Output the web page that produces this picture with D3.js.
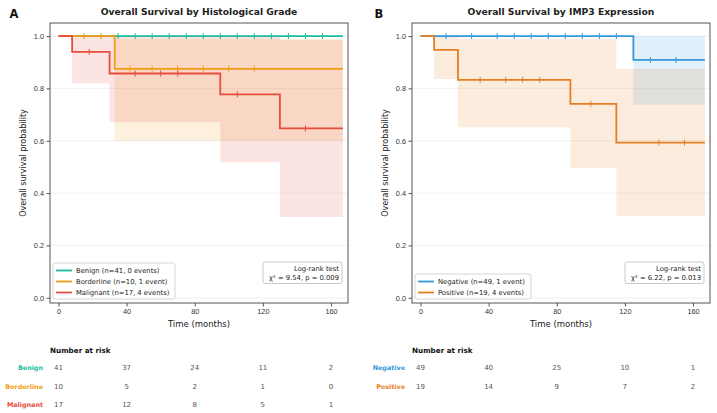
<!DOCTYPE html>
<html><head><meta charset="utf-8">
<script src="https://cdn.jsdelivr.net/npm/d3@7"></script>
<style>body{margin:0;background:#fff;} svg{font-family:"DejaVu Sans",sans-serif;}</style>
</head><body><svg id="c" width="717" height="413"></svg>
<script>
// ---- data ----
const endTime = 167;
const xTicks = [0, 40, 80, 120, 160];
const yTicks = [0.0, 0.2, 0.4, 0.6, 0.8, 1.0];

// Panel A
const benignTimes = [0];
const benignSurv = [1];
const benignLower = [1];
const benignUpper = [1];
const benignCensor = [35, 45, 55, 65, 75, 85, 95, 105, 115, 125, 135, 145, 155];

const borderTimes = [0, 33];
const borderSurv = [1, 0.875];
const borderLower = [1, 0.60];
const borderUpper = [1, 0.99];
const borderCensor = [15, 25, 42, 55, 70, 85, 100, 115];

const maligTimes = [0, 8, 30, 95, 130];
const maligSurv = [1, 0.94, 0.857, 0.777, 0.647];
const maligLower = [1, 0.82, 0.672, 0.518, 0.309];
const maligUpper = [1, 1.0, 1.0, 1.0, 0.985];
const maligCensor = [18, 45, 60, 70, 105, 145];

// Panel B
const negTimes = [0, 125];
const negSurv = [1, 0.909];
const negLower = [1, 0.738];
const negUpper = [1, 1.0];
const negCensor = [15, 30, 45, 55, 65, 75, 85, 95, 105, 115, 135, 150];

const posTimes = [0, 8, 22, 88, 115];
const posSurv = [1, 0.947, 0.833, 0.741, 0.593];
const posLower = [1, 0.836, 0.652, 0.495, 0.312];
const posUpper = [1, 1.0, 0.99, 0.99, 0.875];
const posCensor = [35, 50, 60, 70, 100, 140, 155];

const riskA = { Benign: [41, 37, 24, 11, 2], Borderline: [10, 5, 2, 1, 0], Malignant: [17, 12, 8, 5, 1] };
const riskB = { Negative: [49, 40, 25, 10, 1], Positive: [19, 14, 9, 7, 2] };

const panels = [
  {
    letter: "A", title: "Overall Survival by Histological Grade",
    x0: 50, x1: 348, lx: 14, stat: "χ² = 9.54, p = 0.009",
    groups: [
      { name: "Benign", label: "Benign (n=41, 0 events)", color: "#1abc9c", t: benignTimes, s: benignSurv, lo: benignLower, hi: benignUpper, c: benignCensor, risk: riskA.Benign },
      { name: "Borderline", label: "Borderline (n=10, 1 event)", color: "#f39c12", t: borderTimes, s: borderSurv, lo: borderLower, hi: borderUpper, c: borderCensor, risk: riskA.Borderline },
      { name: "Malignant", label: "Malignant (n=17, 4 events)", color: "#e74c3c", t: maligTimes, s: maligSurv, lo: maligLower, hi: maligUpper, c: maligCensor, risk: riskA.Malignant }
    ]
  },
  {
    letter: "B", title: "Overall Survival by IMP3 Expression",
    x0: 412, x1: 710, lx: 379, stat: "χ² = 6.22, p = 0.013",
    groups: [
      { name: "Negative", label: "Negative (n=49, 1 event)", color: "#3498db", t: negTimes, s: negSurv, lo: negLower, hi: negUpper, c: negCensor, risk: riskB.Negative },
      { name: "Positive", label: "Positive (n=19, 4 events)", color: "#e67e22", t: posTimes, s: posSurv, lo: posLower, hi: posUpper, c: posCensor, risk: riskB.Positive }
    ]
  }
];

const svg = d3.select("#c");
const yTop = 23, yBot = 303;

panels.forEach(p => {
  const x = d3.scaleLinear().domain([-5, 170]).range([p.x0, p.x1]);
  const y = d3.scaleLinear().domain([-0.02, 1.05]).range([yBot, yTop]);
  const g = svg.append("g");

  // grid
  g.selectAll(".grid").data(yTicks).enter().append("line")
    .attr("x1", p.x0).attr("x2", p.x1).attr("y1", d => y(d)).attr("y2", d => y(d))
    .attr("stroke", "#ececec").attr("stroke-width", 0.8);

  const steps = (gr, key) => {
    const pts = gr.t.map((t, i) => ({ t, v: gr[key][i] }));
    pts.push({ t: endTime, v: gr[key][gr[key].length - 1] });
    return pts;
  };

  // CI
  p.groups.forEach(gr => {
    const lo = steps(gr, "lo"), hi = steps(gr, "hi");
    const pts = lo.map((d, i) => ({ t: d.t, lo: d.v, hi: hi[i].v }));
    g.append("path").datum(pts)
      .attr("d", d3.area().curve(d3.curveStepAfter).x(d => x(d.t)).y0(d => y(d.lo)).y1(d => y(d.hi)))
      .attr("fill", gr.color).attr("fill-opacity", 0.15);
  });

  // curves
  p.groups.forEach(gr => {
    const pts = steps(gr, "s");
    g.append("path").datum(pts)
      .attr("d", d3.line().curve(d3.curveStepAfter).x(d => x(d.t)).y(d => y(d.v)))
      .attr("fill", "none").attr("stroke", gr.color).attr("stroke-width", 1.8);
    const survAt = t => { let v = gr.s[0]; gr.t.forEach((tt, i) => { if (tt <= t) v = gr.s[i]; }); return v; };
    g.selectAll(null).data(gr.c).enter().append("line")
      .attr("x1", d => x(d)).attr("x2", d => x(d))
      .attr("y1", d => y(survAt(d)) - 3).attr("y2", d => y(survAt(d)) + 3)
      .attr("stroke", gr.color).attr("stroke-width", 1);
  });

  // frame
  g.append("rect").attr("x", p.x0).attr("y", yTop).attr("width", p.x1 - p.x0).attr("height", yBot - yTop)
    .attr("fill", "none").attr("stroke", "#555").attr("stroke-width", 1);

  // axes
  const xa = g.append("g").attr("transform", `translate(0,${yBot})`)
    .call(d3.axisBottom(x).tickValues(xTicks).tickSize(3.5).tickPadding(2).tickFormat(d3.format("d")));
  xa.select(".domain").remove();
  xa.selectAll("text").attr("font-size", 7.3).attr("fill", "#333");
  xa.selectAll("line").attr("stroke", "#555");
  const ya = g.append("g").attr("transform", `translate(${p.x0},0)`)
    .call(d3.axisLeft(y).tickValues(yTicks).tickSize(3.5).tickPadding(2.5).tickFormat(d3.format(".1f")));
  ya.select(".domain").remove();
  ya.selectAll("text").attr("font-size", 7.3).attr("fill", "#333");
  ya.selectAll("line").attr("stroke", "#555");

  const cx = (p.x0 + p.x1) / 2;
  g.append("text").attr("x", cx).attr("y", 327).attr("text-anchor", "middle")
    .attr("font-size", 8.5).attr("fill", "#222").text("Time (months)");
  g.append("text").attr("transform", `translate(${p.x0 - 24},${(yTop + yBot) / 2}) rotate(-90)`)
    .attr("text-anchor", "middle").attr("font-size", 8).attr("fill", "#222").text("Overall survival probability");

  // title & letter
  g.append("text").attr("x", cx).attr("y", 15).attr("text-anchor", "middle")
    .attr("font-size", 9.2).attr("font-weight", "bold").attr("fill", "#222").text(p.title);
  g.append("text").attr("x", p.lx).attr("y", 18).attr("text-anchor", "middle")
    .attr("font-size", 11.5).attr("font-weight", "bold").attr("fill", "#111").text(p.letter);

  // legend
  const n = p.groups.length;
  const lh = 11;
  const lgH = n * lh + 3;
  const lgX = p.x0 + 3, lgY = yBot - 4 - lgH;
  const lgW = n === 3 ? 122 : 116;
  g.append("rect").attr("x", lgX).attr("y", lgY).attr("width", lgW).attr("height", lgH)
    .attr("rx", 2).attr("fill", "#fff").attr("fill-opacity", 0.85).attr("stroke", "#ccc").attr("stroke-width", 0.8);
  p.groups.forEach((gr, i) => {
    const yy = lgY + 7.5 + i * lh;
    g.append("line").attr("x1", lgX + 3).attr("x2", lgX + 19).attr("y1", yy).attr("y2", yy)
      .attr("stroke", gr.color).attr("stroke-width", 1.8);
    g.append("text").attr("x", lgX + 23).attr("y", yy + 2.5).attr("font-size", 6.8).attr("fill", "#222").text(gr.label);
  });

  // log-rank box
  const bx1 = p.x1 - 6, bx0 = bx1 - 79;
  g.append("rect").attr("x", bx0).attr("y", 262).attr("width", 79).attr("height", 21.5)
    .attr("rx", 2).attr("fill", "#fff").attr("fill-opacity", 0.85).attr("stroke", "#bbb").attr("stroke-width", 0.8);
  g.append("text").attr("x", bx1 - 3).attr("y", 270.5).attr("text-anchor", "end").attr("font-size", 6.8).attr("fill", "#222").text("Log-rank test");
  g.append("text").attr("x", bx1 - 3).attr("y", 279.5).attr("text-anchor", "end").attr("font-size", 6.8).attr("fill", "#222").text(p.stat);

  // risk table
  g.append("text").attr("x", p.x0).attr("y", 353).attr("font-size", 7.2).attr("font-weight", "bold").attr("fill", "#111").text("Number at risk");
  p.groups.forEach((gr, i) => {
    const yy = 370 + i * 18.5;
    g.append("text").attr("x", p.x0 - 7).attr("y", yy).attr("text-anchor", "end")
      .attr("font-size", 6.4).attr("font-weight", "bold").attr("fill", gr.color).text(gr.name);
    g.selectAll(null).data(gr.risk).enter().append("text")
      .attr("x", (d, j) => x(xTicks[j])).attr("y", yy).attr("text-anchor", "middle")
      .attr("font-size", 7).attr("fill", "#555").text(d => d);
  });
});
</script></body></html>
